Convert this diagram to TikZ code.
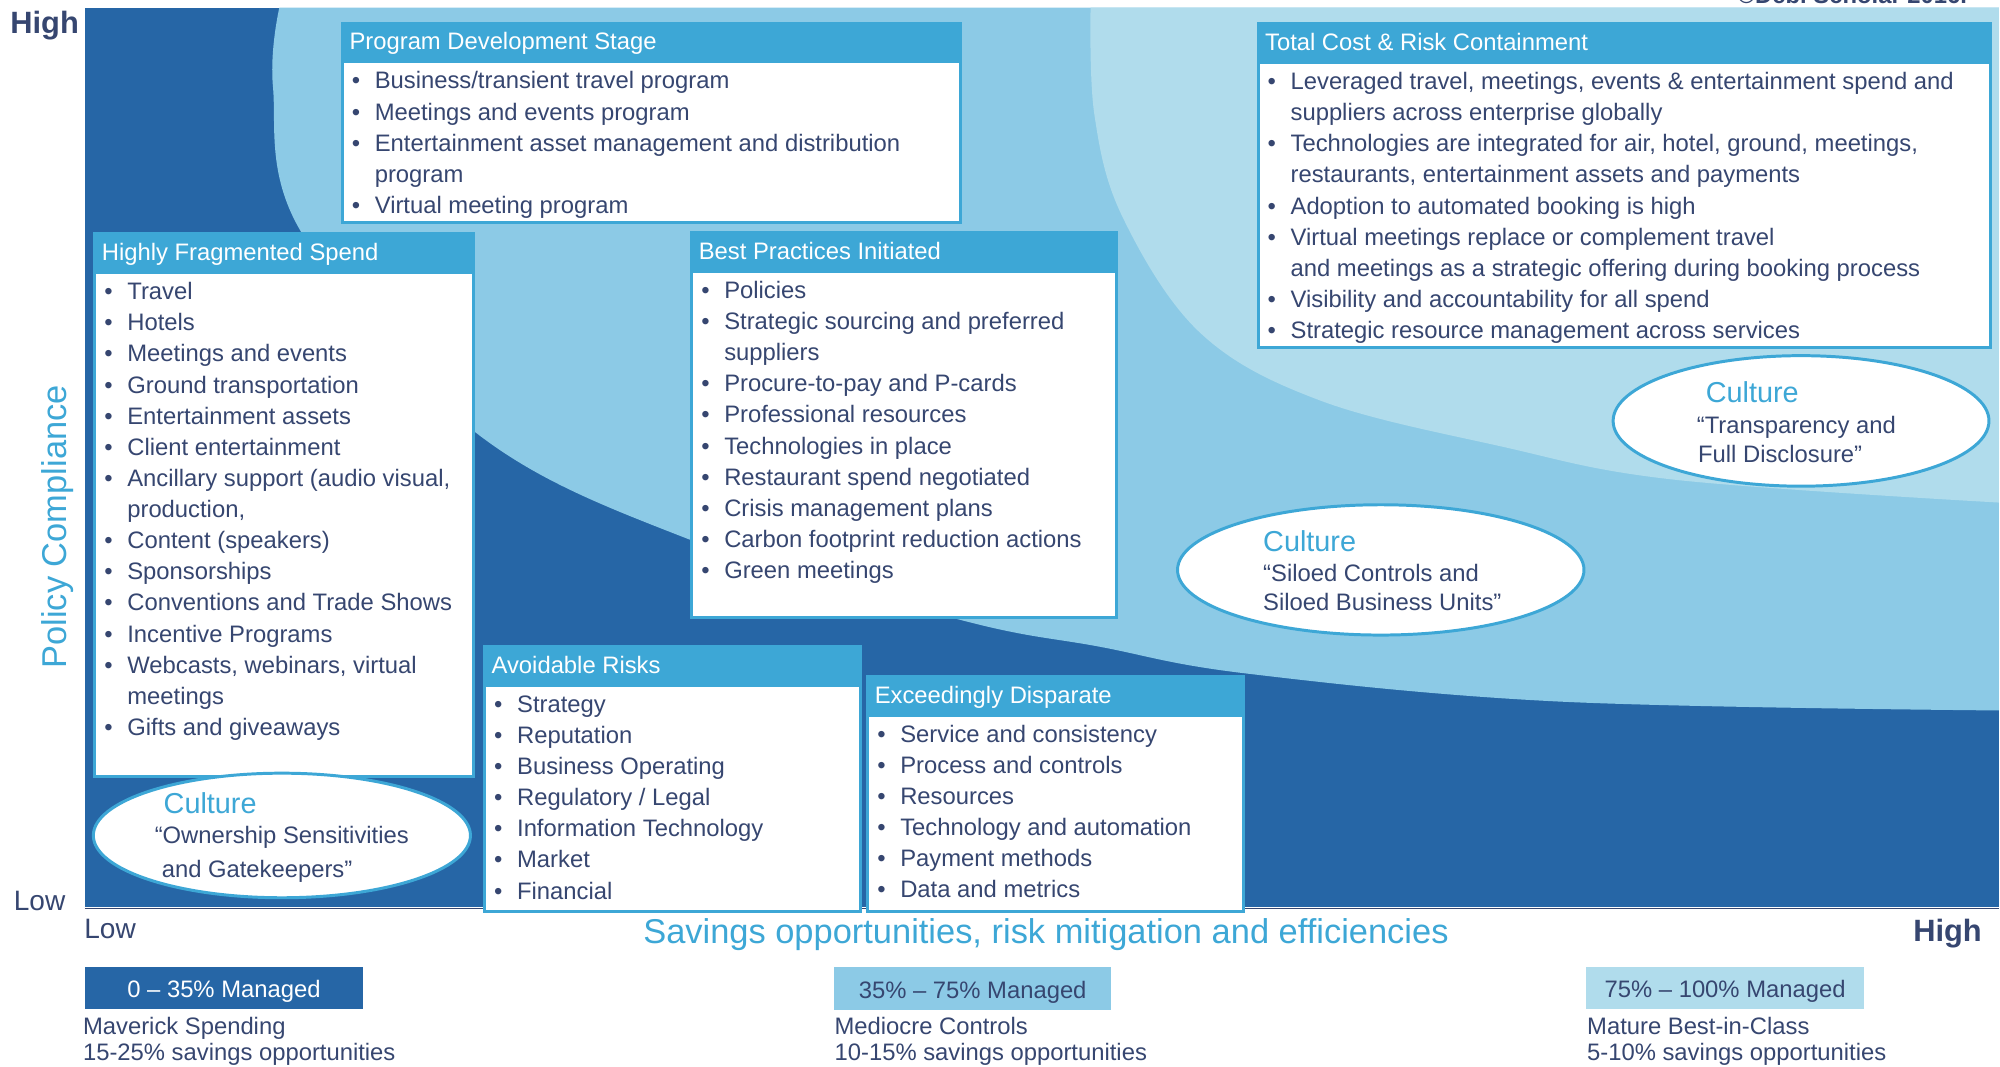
\documentclass[tikz,border=0pt]{standalone}
\usepackage{fontspec}
\setmainfont{Liberation Sans}
\usetikzlibrary{shapes.geometric,calc}

\definecolor{deepblue}{RGB}{38,102,166}
\definecolor{midblue}{RGB}{140,202,230}
\definecolor{paleblue}{RGB}{176,220,236}
\definecolor{hdrblue}{RGB}{61,167,214}
\definecolor{navy}{RGB}{54,70,112}

% type sizes
\newcommand\bodyfont{\fontsize{11.2}{14.64}\selectfont}
\newcommand\culfont{\fontsize{13.56}{13.6}\selectfont\color{hdrblue}}
\newcommand\highfont{\fontsize{14.5}{16}\selectfont\bfseries}
\newcommand\lowfont{\fontsize{13.2}{15}\selectfont}

% bullet lists: one row per printed line
\newcommand\bl{\makebox[10.8pt][l]{\textbullet}}
\newcommand\itm[1]{\bl & #1\\}
\newcommand\cnt[1]{& #1\\}
\newcommand\blist[1]{\begin{tabular}[t]{@{}l@{}l@{}}#1\end{tabular}}

\tikzset{
  panel/.style 2 args={draw=hdrblue, line width=1.4pt, fill=white, anchor=north west,
    inner sep=0pt, minimum width=#1, minimum height=#2},
  panelhead/.style={draw=hdrblue, line width=1.4pt, fill=hdrblue, anchor=north west,
    inner sep=0pt, minimum width=#1, minimum height=18.24pt},
  ttl/.style={anchor=base west, inner sep=0pt, text=white, font=\bodyfont},
  lst/.style={anchor=base west, inner sep=0pt, text=navy, font=\bodyfont},
  culture/.style 2 args={ellipse, draw=hdrblue, line width=1.4pt, fill=white, inner sep=0pt,
    minimum width=#1, minimum height=#2},
  cultxt/.style={anchor=base west, inner sep=0pt, text=navy, font=\fontsize{11.2}{13.6}\selectfont},
  axlbl/.style={anchor=base west, inner sep=0pt, text=navy, font=\lowfont},
  axtitle/.style={inner sep=0pt, text=hdrblue, font=\fontsize{16.2}{18}\selectfont},
  legendbox/.style={anchor=north west, inner sep=0pt, minimum width=130.5pt, minimum height=20.04pt,
    font=\bodyfont, text height=9pt, text depth=0.1pt},
  note/.style={anchor=base west, inner sep=0pt, text=navy, font=\fontsize{11.2}{12.2}\selectfont}
}

\begin{document}
\begin{tikzpicture}[x=0.6pt, y=-0.6pt]
\useasboundingbox (0,0) rectangle (1568,836);

% maturity bands
\fill[deepblue] (66.5,6) rectangle (1567,711);
\fill[midblue] plot[smooth, tension=0.6] coordinates {(219,6) (214,68) (235,180) (369,336)
  (538,422) (753,486) (862,507) (977,528) (1222,550) (1567,557)} -- (1567,6) -- cycle;
\fill[paleblue] plot[smooth, tension=0.6] coordinates {(855,6) (858,90) (880,170) (941,261)
  (1035,314) (1177,350) (1312,376) (1567,394)} -- (1567,6) -- cycle;

% horizontal axis
\coordinate (axL) at (66.5,712.3);
\coordinate (axR) at (1567,712.3);
\draw[navy, line width=0.8pt] (axL) -- (axR);

\node[anchor=base west, inner sep=0pt, text=navy, font=\fontsize{11.2}{13}\selectfont\bfseries]
  (copy) at (1362,2.7) {©Debi Scholar 2016.};

% Program Development Stage
\node[panel={290.76pt}{93.9pt}] (pds) at (267.2,16.9) {};
\node[panelhead=290.76pt] (pdsh) at (pds.north west) {};
\node[ttl] (pdst) at ($(pds.north west)+(6.5,22.3)$) {Program Development Stage};
\node[lst] (pdsl) at ($(pds.north west)+(8.3,52.8)$) {\blist{%
  \itm{Business/transient travel program}
  \itm{Meetings and events program}
  \itm{Entertainment asset management and distribution}
  \cnt{program}
  \itm{Virtual meeting program}}};

% Highly Fragmented Spend
\node[panel={177.96pt}{255.36pt}] (hfs) at (73.2,182.2) {};
\node[panelhead=177.96pt] (hfsh) at (hfs.north west) {};
\node[ttl] (hfst) at ($(hfs.north west)+(6.3,22.3)$) {Highly Fragmented Spend};
\node[lst] (hfsl) at ($(hfs.north west)+(8.3,52.8)$) {\blist{%
  \itm{Travel}
  \itm{Hotels}
  \itm{Meetings and events}
  \itm{Ground transportation}
  \itm{Entertainment assets}
  \itm{Client entertainment}
  \itm{Ancillary support (audio visual,}
  \cnt{production,}
  \itm{Content (speakers)}
  \itm{Sponsorships}
  \itm{Conventions and Trade Shows}
  \itm{Incentive Programs}
  \itm{Webcasts, webinars, virtual}
  \cnt{meetings}
  \itm{Gifts and giveaways}}};

% Best Practices Initiated
\node[panel={199.56pt}{181.26pt}] (bpi) at (541.2,181.2) {};
\node[panelhead=199.56pt] (bpih) at (bpi.north west) {};
\node[ttl] (bpit) at ($(bpi.north west)+(6.3,22.3)$) {Best Practices Initiated};
\node[lst] (bpil) at ($(bpi.north west)+(8.3,52.8)$) {\blist{%
  \itm{Policies}
  \itm{Strategic sourcing and preferred}
  \cnt{suppliers}
  \itm{Procure-to-pay and P-cards}
  \itm{Professional resources}
  \itm{Technologies in place}
  \itm{Restaurant spend negotiated}
  \itm{Crisis management plans}
  \itm{Carbon footprint reduction actions}
  \itm{Green meetings}}};

% Total Cost & Risk Containment
\node[panel={344.46pt}{152.4pt}] (tcr) at (985.2,17.4) {};
\node[panelhead=344.46pt] (tcrh) at (tcr.north west) {};
\node[ttl] (tcrt) at ($(tcr.north west)+(6.3,22.3)$) {Total Cost \& Risk Containment};
\node[lst] (tcrl) at ($(tcr.north west)+(8.3,52.8)$) {\blist{%
  \itm{Leveraged travel, meetings, events \& entertainment spend and}
  \cnt{suppliers across enterprise globally}
  \itm{Technologies are integrated for air, hotel, ground, meetings,}
  \cnt{restaurants, entertainment assets and payments}
  \itm{Adoption to automated booking is high}
  \itm{Virtual meetings replace or complement travel}
  \cnt{and meetings as a strategic offering during booking process}
  \itm{Visibility and accountability for all spend}
  \itm{Strategic resource management across services}}};

% Avoidable Risks
\node[panel={176.88pt}{124.68pt}] (avr) at (378.8,505.7) {};
\node[panelhead=176.88pt] (avrh) at (avr.north west) {};
\node[ttl] (avrt) at ($(avr.north west)+(6.3,22.3)$) {Avoidable Risks};
\node[lst] (avrl) at ($(avr.north west)+(8.3,52.8)$) {\blist{%
  \itm{Strategy}
  \itm{Reputation}
  \itm{Business Operating}
  \itm{Regulatory / Legal}
  \itm{Information Technology}
  \itm{Market}
  \itm{Financial}}};

% Exceedingly Disparate
\node[panel={176.76pt}{110.58pt}] (exd) at (679.2,529.2) {};
\node[panelhead=176.76pt] (exdh) at (exd.north west) {};
\node[ttl] (exdt) at ($(exd.north west)+(6.3,22.3)$) {Exceedingly Disparate};
\node[lst] (exdl) at ($(exd.north west)+(8.3,52.8)$) {\blist{%
  \itm{Service and consistency}
  \itm{Process and controls}
  \itm{Resources}
  \itm{Technology and automation}
  \itm{Payment methods}
  \itm{Data and metrics}}};

% culture ellipses
\node[culture={177.4pt}{58.6pt}] (cul1) at (221,655) {};
\node[cultxt] (cul1t) at (121,637.7) {\begin{tabular}[t]{@{}l@{}}\hspace*{4.2pt}{\culfont Culture}\\[0.5pt]
  “Ownership Sensitivities\\[2.36pt]\hspace*{3.3pt}and Gatekeepers”\end{tabular}};

\node[culture={191.2pt}{61.3pt}] (cul2) at (1082.5,446.8) {};
\node[cultxt] (cul2t) at (990,432.5) {\begin{tabular}[t]{@{}l@{}}{\culfont Culture}\\[0.5pt]
  “Siloed Controls and\\Siloed Business Units”\end{tabular}};

\node[culture={176.8pt}{61.4pt}] (cul3) at (1412,330) {};
\node[cultxt] (cul3t) at (1330,315.7) {\begin{tabular}[t]{@{}l@{}}\hspace*{4.2pt}{\culfont Culture}\\[0.8pt]
  “Transparency and\\\hspace*{0.6pt}Full Disclosure”\end{tabular}};

% axis labels
\node[axlbl, font=\highfont] (yhigh) at (7.8,26) {High};
\node[axlbl] (ylow) at (10.5,713.5) {Low};
\node[axlbl] (xlow) at (65.8,736) {Low};
\node[axlbl, font=\highfont, anchor=base east] (xhigh) at (1554,738) {High};
\node[axtitle, anchor=base] (xtitle) at (820,740) {Savings opportunities, risk mitigation and efficiencies};
\node[axtitle, rotate=90, anchor=base] (ytitle) at (52,413) {Policy Compliance};

% management levels
\node[legendbox, fill=deepblue, text=white] (lev1) at (66.5,757.5) {0 – 35\% Managed};
\node[legendbox, fill=midblue, text=navy] (lev2) at (653.5,758) {35\% – 75\% Managed};
\node[legendbox, fill=paleblue, text=navy] (lev3) at (1243.4,757.5) {75\% – 100\% Managed};
\node[note] (lev1t) at (64.8,811.2) {\begin{tabular}[t]{@{}l@{}}Maverick Spending\\15-25\% savings opportunities\end{tabular}};
\node[note] (lev2t) at (654,811.2) {\begin{tabular}[t]{@{}l@{}}Mediocre Controls\\10-15\% savings opportunities\end{tabular}};
\node[note] (lev3t) at (1244,811.2) {\begin{tabular}[t]{@{}l@{}}Mature Best-in-Class\\5-10\% savings opportunities\end{tabular}};
\end{tikzpicture}
\end{document}
